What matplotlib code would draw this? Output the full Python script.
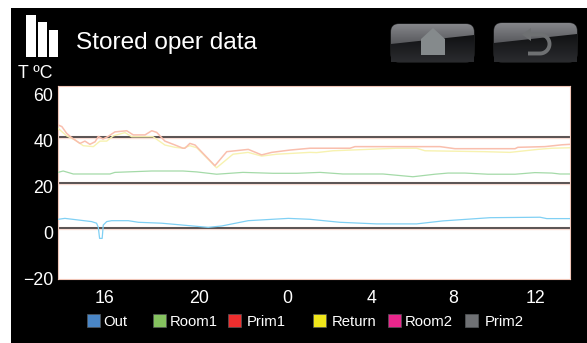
import matplotlib
matplotlib.use("Agg")
import matplotlib.pyplot as plt
import matplotlib.transforms as mtrans
from matplotlib.colors import LinearSegmentedColormap
from matplotlib.patches import FancyBboxPatch, Polygon, Rectangle
import numpy as np

plt.rcParams['font.family'] = ['Liberation Sans', 'DejaVu Sans']

W, H = 587, 343

# hours since 16:00, temperature in C
out_x = [-2.17, -1.86, -0.62, -0.39, -0.31, -0.25, -0.13, -0.08, 0.08, 0.31, 1.08, 1.55, 2.63, 4.79, 5.42,
         6.65, 8.51, 9.51, 10.9, 12.61, 14.46, 15.68, 17.87, 20.19, 20.5, 21.58]
out_y = [4.0, 4.4, 3.0, 2.3, 0.5, -4.3, -4.3, 1.5, 3.0, 3.4, 3.4, 2.7, 2.3, 0.5, 1.1,
         3.4, 4.4, 4.0, 2.7, 2.0, 2.0, 3.3, 4.7, 4.9, 4.3, 4.3]

room1_x = [-2.18, -1.94, -1.47, 0.23, 0.46, 2.17, 3.62, 4.26, 5.18, 6.4, 7.8, 8.91, 9.98, 11.04, 12.9,
           14.29, 15.31, 15.92, 16.71, 17.77, 19.03, 19.95, 20.74, 21.11, 21.58]
room1_y = [24.4, 25.0, 23.7, 23.7, 24.4, 25.0, 25.0, 24.6, 23.6, 24.4, 24.0, 24.0, 24.4, 23.7, 23.7,
           22.5, 23.6, 24.1, 24.1, 23.6, 23.6, 24.3, 24.1, 23.7, 23.7]

prim1_x = [-2.17, -2.0, -1.78, -1.55, -1.16, -0.93, -0.7, -0.46, -0.31, -0.09, 0.14, 0.46, 1.01, 1.31, 1.86,
           2.17, 2.4, 2.78, 3.25, 3.62, 3.71, 3.94, 4.18, 5.1, 5.65, 6.65, 7.27, 7.74, 8.58, 9.51,
           11.37, 11.6, 15.55, 16.24, 19.03, 19.16, 20.42, 21.21, 21.58]
prim1_y = [45.0, 44.3, 41.4, 39.5, 37.0, 38.0, 36.6, 37.7, 40.0, 38.9, 40.0, 42.0, 42.5, 40.7, 40.7,
           42.5, 41.8, 38.0, 36.3, 34.9, 34.9, 37.0, 36.3, 27.3, 33.4, 34.4, 32.0, 33.1, 34.1, 34.9,
           34.9, 35.6, 35.6, 34.7, 34.7, 35.3, 35.6, 36.4, 36.6]

return_x = [-2.18, -1.78, -1.39, -1.01, -0.54, -0.23, 0.08, 0.39, 0.93, 1.24, 2.23, 2.78, 3.25, 3.62, 3.94,
            4.26, 5.18, 5.94, 6.64, 7.27, 7.97, 9.51, 9.82, 10.58, 13.54, 14.46, 14.85, 17.63, 18.79, 20.09,
            20.73, 21.58]
return_y = [43.6, 40.3, 38.5, 36.0, 35.6, 38.0, 38.0, 40.3, 41.7, 39.9, 39.9, 36.3, 35.3, 34.9, 36.0,
            35.1, 26.4, 32.3, 33.1, 31.5, 32.3, 33.1, 33.0, 33.8, 34.9, 34.9, 33.8, 33.4, 33.1, 34.4,
            34.9, 35.1]

y_ticks = [60, 40, 20, 0, -20]
grid_values = [40, 20, 0]
x_tick_pos = [0, 4.36, 8.45, 12.39, 16.15, 20.0]
x_tick_labels = ['16', '20', '0', '4', '8', '12']
legend_names = ['Out', 'Room1', 'Prim1', 'Return', 'Room2', 'Prim2']
legend_colors = ['#4a86c6', '#85c25f', '#ee2e2e', '#efe61a', '#e9268c', '#6f7174']
legend_box_x = [87, 153, 228, 313, 388, 465]
legend_text_x = [103, 170, 247, 332, 405, 485]

fig = plt.figure(figsize=(W / 100, H / 100), dpi=100, facecolor='white')

# full figure layer in image pixels for the screen chrome
bg = fig.add_axes([0, 0, 1, 1])
bg.axis('off')
bg.add_patch(Rectangle((11, 8), W - 11, H - 8, color='black', lw=0))

# bars icon
for x0, x1, top in [(26, 36, 15), (38, 47, 22), (49, 58, 30)]:
    bg.add_patch(Rectangle((x0, top), x1 - x0, 57 - top, color='white', lw=0))

bg.text(76, 42.5, 'Stored oper data', color='white', fontsize=17.6, va='center', ha='left')
bg.text(18, 74, 'T ºC', color='white', fontsize=12.8, va='center', ha='left')

shine = LinearSegmentedColormap.from_list('shine', ['#85868a', '#55565a'])
dark = LinearSegmentedColormap.from_list('dark', ['#101113', '#2a2b2e'])


def button(x0, y0, w, h):
    box = FancyBboxPatch((x0 + 8, y0 + 8), w - 16, h - 16, boxstyle='round,pad=8,rounding_size=8',
                         fc='#1b1c1e', ec='#333437', lw=0.7, zorder=2)
    bg.add_patch(box)
    grad = np.linspace(0, 1, 30)[:, None]
    top = bg.imshow(grad, extent=[x0, x0 + w, y0 + 21, y0], cmap=shine, aspect='auto', zorder=2.2)
    top.set_clip_path(box)
    low = bg.imshow(grad, extent=[x0, x0 + w, y0 + h, y0 + 10], cmap=dark, aspect='auto', zorder=2.4)
    low.set_clip_path(Polygon([(x0, y0 + 20), (x0 + w, y0 + 11), (x0 + w, y0 + h), (x0, y0 + h)],
                              transform=bg.transData))


bg.set_xlim(0, W)
bg.set_ylim(H, 0)
button(391, 24, 83, 38)
button(494, 23, 83, 39)
bg.set_xlim(0, W)
bg.set_ylim(H, 0)

# house icon
bg.add_patch(Polygon([(433, 28), (421, 39), (421, 55), (445, 55), (445, 39)], fc='#858a8c', lw=0, zorder=4))
# return arrow
theta = np.linspace(-np.pi / 2, np.pi / 2, 30)
arc_x = 540 + 9.5 * np.cos(theta)
arc_y = 44 + 9.5 * np.sin(theta)
bg.plot(np.r_[529, arc_x, 528], np.r_[34.5, arc_y, 53.5], color='#6e7072', lw=2.8, zorder=4, solid_capstyle='butt')
bg.add_patch(Polygon([(522, 34.5), (531, 28), (531, 41)], fc='#6e7072', lw=0, zorder=4))

# legend
for bx, tx, name, color in zip(legend_box_x, legend_text_x, legend_names, legend_colors):
    bg.add_patch(Rectangle((bx, 314), 13, 13, fc=color, ec='#55585a', lw=0.5))
    bg.text(tx, 321.5, name, color='white', fontsize=10.7, va='center', ha='left')

# plot area: x 58-570, y 86-279
ax = fig.add_axes([58 / W, 1 - 279 / H, 512 / W, 193 / H])
ax.set_facecolor('white')
ax.set_xlim(-2.18, 21.58)
ax.set_ylim(-21.96, 61.96)

for v in grid_values:
    ax.axhline(v, color='#f8dcd4', lw=2.4, zorder=1)
    ax.axhline(v, color='#2e2e30', lw=1.1, zorder=1.5)

ax.plot(out_x, out_y, color='#80d0f4', lw=0.9, zorder=3)
ax.plot(room1_x, room1_y, color='#a4daa8', lw=0.9, zorder=3)
ax.plot(return_x, return_y, color='#f7f2b0', lw=1.0, zorder=3)
ax.plot(prim1_x, prim1_y, color='#f9bfae', lw=1.1, zorder=3.5)

ax.set_yticks(y_ticks)
ax.set_xticks(x_tick_pos)
ax.set_xticklabels(x_tick_labels)
ax.tick_params(axis='both', length=0, colors='white', labelsize=12.8)
ax.tick_params(axis='y', pad=3.5)
ax.tick_params(axis='x', pad=8)

# y labels sit a little below their grid lines in the original
shift = mtrans.ScaledTranslation(0, -3 / 72, fig.dpi_scale_trans)
for lab in ax.get_yticklabels():
    lab.set_transform(lab.get_transform() + shift)
for s in ax.spines.values():
    s.set_color('#f0c6b8')
    s.set_linewidth(0.8)

fig.savefig('out.png', dpi=100, facecolor='white')
